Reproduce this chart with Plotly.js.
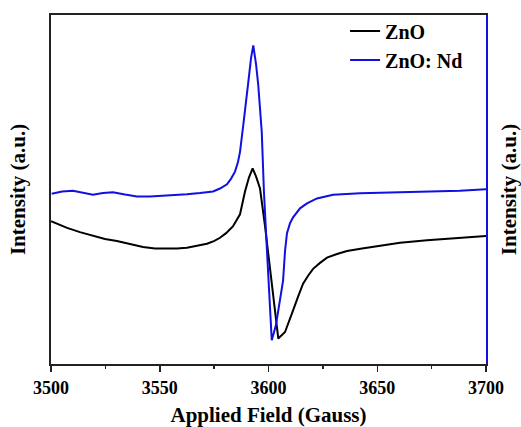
<!DOCTYPE html>
<html>
<head>
<meta charset="utf-8">
<script src="https://cdn.plot.ly/plotly-3.0.1.min.js"></script>
<style>html,body{margin:0;padding:0;background:#fff;}#chart{width:521px;height:427px;}</style>
</head>
<body>
<div id="chart"></div>
<script>
// Applied field (Gauss) and intensity (a.u.)
const znoField = [3500, 3507.4, 3513.3, 3519.3, 3524.8, 3530.3, 3536.3, 3542.3, 3547.8, 3553.3, 3557.9, 3562.5, 3567.1, 3571.7, 3574.9, 3577.7, 3580.5, 3583.7, 3586.9, 3589.2, 3591.0, 3592.7, 3594.3, 3596.1, 3598.4, 3600.7, 3603.0, 3604.5, 3607.6, 3609.4, 3611.3, 3613.6, 3615.9, 3618.2, 3620.5, 3623.7, 3626.9, 3631.5, 3636.1, 3643.0, 3649.9, 3660.5, 3672.9, 3684.8, 3700];
const znoIntensity = [144, 137.3, 133, 129, 126, 124, 121, 118, 116.5, 116.3, 116.5, 117.3, 119, 121.3, 124, 127.3, 132, 139, 151, 174, 188, 197.3, 189, 177, 139, 94, 49, 25.7, 32.3, 44, 54, 68, 81, 89, 96, 102, 107.3, 111, 114, 116.5, 119, 122.3, 124.7, 126.7, 129];

const ndField = [3500.3, 3505.1, 3510.1, 3514.7, 3519.3, 3523.9, 3528.5, 3534.0, 3539.5, 3545.5, 3551.5, 3557.0, 3562.5, 3568.5, 3574.5, 3577.7, 3580.9, 3582.8, 3584.6, 3586.0, 3586.9, 3588.4, 3589.2, 3590.7, 3592.0, 3593.0, 3594.3, 3595.3, 3596.9, 3597.9, 3599.3, 3600.7, 3601.5, 3603.4, 3605.3, 3606.7, 3607.6, 3608.5, 3609.9, 3611.3, 3614.5, 3617.7, 3622.3, 3629.7, 3642.1, 3657.2, 3672.9, 3688.0, 3700];
const ndIntensity = [171.7, 174, 174.7, 172.5, 170.7, 172.5, 173.3, 171, 169, 169, 169.7, 170.5, 171.3, 172.5, 174, 177, 181.3, 187, 194, 204, 214, 241, 254, 284, 309, 321.3, 302, 281, 234, 174, 114, 64, 24, 39, 64, 84, 114, 132, 142, 148, 157, 162, 167, 170.7, 172.3, 173.3, 174, 174.7, 176.3];

const seriesNames = ['ZnO', 'ZnO: Nd'];
const xTickValues = [3500, 3550, 3600, 3650, 3700];
const xTitle = 'Applied Field (Gauss)';
const yTitle = 'Intensity (a.u.)';

const serif = '"Times New Roman", "Liberation Serif", Tinos, serif';

const traces = [
  {x: znoField, y: znoIntensity, name: seriesNames[0], type: 'scatter', mode: 'lines',
   line: {color: '#000000', width: 2}, yaxis: 'y'},
  {x: ndField, y: ndIntensity, name: seriesNames[1], type: 'scatter', mode: 'lines',
   line: {color: '#1010e0', width: 2}, yaxis: 'y2'}
];

const layout = {
  width: 521, height: 427,
  margin: {l: 51, r: 35, t: 12, b: 63},
  paper_bgcolor: '#ffffff', plot_bgcolor: '#ffffff',
  font: {family: serif},
  showlegend: true,
  legend: {x: 0.676, y: 1.01, xanchor: 'left', yanchor: 'top',
           font: {family: serif, size: 20, color: '#000', weight: 'bold'},
           bgcolor: 'rgba(0,0,0,0)', tracegroupgap: 0},
  xaxis: {range: [3500, 3700], tickvals: xTickValues, ticktext: xTickValues.map(String),
          ticks: 'outside', ticklen: 6, tickwidth: 1.5, tickcolor: '#222',
          minor: {dtick: 25, tick0: 3500, ticks: 'outside', ticklen: 3, tickwidth: 1.5, tickcolor: '#222', showgrid: false},
          showline: true, linecolor: '#222', linewidth: 2, mirror: true,
          showgrid: false, zeroline: false, automargin: false,
          tickfont: {family: serif, size: 18, color: '#000', weight: 'bold'},
          title: {text: xTitle, font: {family: serif, size: 21, color: '#000', weight: 'bold'}, standoff: 13}},
  yaxis: {range: [0, 352], showticklabels: false, ticks: '', showline: true, linecolor: '#222', linewidth: 2,
          showgrid: false, zeroline: false, automargin: false,
          title: {text: yTitle, font: {family: serif, size: 21, color: '#000', weight: 'bold'}, standoff: 18}},
  yaxis2: {range: [0, 352], overlaying: 'y', side: 'right', showticklabels: false, ticks: '',
           showline: true, linecolor: '#1010e0', linewidth: 2, showgrid: false, zeroline: false, automargin: false,
           title: {text: yTitle, font: {family: serif, size: 21, color: '#000', weight: 'bold'}, standoff: 14}}
};

Plotly.newPlot('chart', traces, layout, {displayModeBar: false, staticPlot: true});
</script>
</body>
</html>
